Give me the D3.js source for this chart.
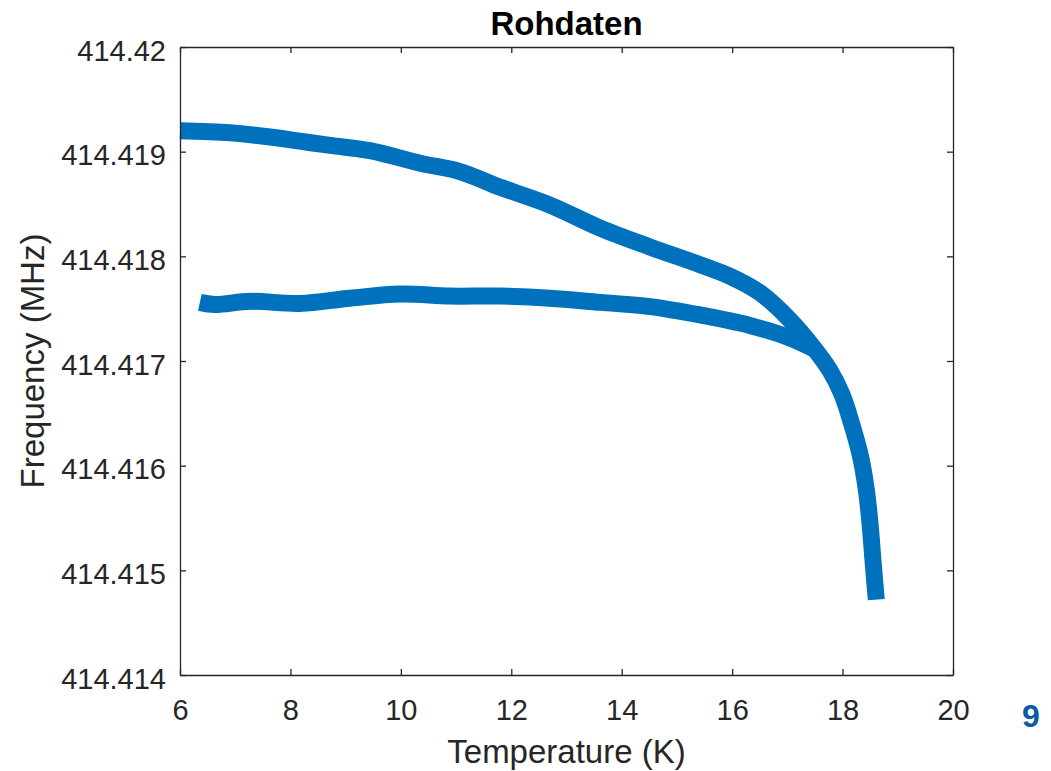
<!DOCTYPE html>
<html>
<head>
<meta charset="utf-8">
<script src="https://cdn.jsdelivr.net/npm/d3@7"></script>
<style>
  body { margin: 0; background: #fff; }
  svg { display: block; font-family: "Liberation Sans", Arial, sans-serif; }
</style>
</head>
<body>
<div id="chart"></div>
<script>

/*******************************/
/*        Chart data           */
/*******************************/
// Upper branch - temperature in K, frequency in MHz
const upperTemp = [6.00, 6.91, 7.63, 8.17, 8.72, 9.44, 10.35, 11.07, 11.80, 12.70, 13.61, 14.51,
  15.42, 15.96, 16.51, 17.05, 17.50, 17.77, 17.99, 18.17, 18.32, 18.43, 18.50, 18.55, 18.61];
const upperFreq = [414.41920, 414.41918, 414.41914, 414.41910, 414.41906, 414.41901, 414.41889,
  414.41881, 414.41866, 414.41849, 414.41827, 414.41809, 414.41792, 414.41781, 414.41765,
  414.41739, 414.41711, 414.41691, 414.41668, 414.41639, 414.41610, 414.41577, 414.41543,
  414.41510, 414.41472];

// Lower branch
const lowerTemp = [6.36, 6.63, 7.27, 8.17, 9.08, 9.99, 10.89, 11.80, 12.70, 13.61, 14.51,
  15.42, 16.32, 17.05, 17.50];
const lowerFreq = [414.41756, 414.41754, 414.41757, 414.41755, 414.41760, 414.41764, 414.41762,
  414.41762, 414.41760, 414.41756, 414.41752, 414.41744, 414.41734, 414.41722, 414.41711];

const xTicks = [6, 8, 10, 12, 14, 16, 18, 20];
const yTicks = [414.414, 414.415, 414.416, 414.417, 414.418, 414.419, 414.42];

const upper = upperTemp.map((t, i) => ({t: t, f: upperFreq[i]}));
const lower = lowerTemp.map((t, i) => ({t: t, f: lowerFreq[i]}));

/*******************************/
/*    Declare the constants    */
/*******************************/
const width = 1051;
const height = 771;
const plot = {left: 180, right: 953, top: 47, bottom: 675};
const axisColor = "#262626";
const lineColor = "#0072BD";

const svg = d3.select("#chart")
  .append("svg")
    .attr("width", width)
    .attr("height", height);

/****************************/
/*    Declare the scales    */
/****************************/
const xScale = d3.scaleLinear()
  .domain([6, 20])
  .range([plot.left, plot.right]);

const yScale = d3.scaleLinear()
  .domain([414.414, 414.42])
  .range([plot.bottom, plot.top]);

/*******************************/
/*        Draw the data        */
/*******************************/
const lineGenerator = d3.line()
  .x(d => xScale(d.t))
  .y(d => yScale(d.f))
  .curve(d3.curveCatmullRom);

[lower, upper].forEach(series => {
  svg.append("path")
    .attr("d", lineGenerator(series))
    .attr("fill", "none")
    .attr("stroke", lineColor)
    .attr("stroke-width", 17)
    .attr("stroke-linejoin", "round")
    .attr("stroke-linecap", "butt");
});

/**************************/
/*      Add the axes      */
/**************************/
const styleAxis = g => {
  g.select(".domain").attr("stroke", axisColor).attr("stroke-width", 1.3);
  g.selectAll(".tick line").attr("stroke", axisColor).attr("stroke-width", 1.3);
  g.selectAll(".tick text")
    .attr("fill", axisColor)
    .attr("font-size", 29)
    .attr("font-family", "'Liberation Sans', Arial, sans-serif");
};

const bottomAxis = d3.axisBottom(xScale)
  .tickValues(xTicks)
  .tickFormat(d3.format("d"))
  .tickSize(-6)
  .tickSizeOuter(0);
svg.append("g")
    .attr("transform", `translate(0, ${plot.bottom})`)
    .call(bottomAxis)
    .call(styleAxis)
    .call(g => g.selectAll(".tick text").attr("y", 45).attr("dy", null));

const topAxis = d3.axisTop(xScale)
  .tickValues(xTicks)
  .tickFormat("")
  .tickSize(-6)
  .tickSizeOuter(0);
svg.append("g")
    .attr("transform", `translate(0, ${plot.top})`)
    .call(topAxis)
    .call(styleAxis);

const leftAxis = d3.axisLeft(yScale)
  .tickValues(yTicks)
  .tickFormat(d => String(+d.toFixed(3)))
  .tickSize(-6)
  .tickSizeOuter(0);
svg.append("g")
    .attr("transform", `translate(${plot.left}, 0)`)
    .call(leftAxis)
    .call(styleAxis)
    .call(g => g.selectAll(".tick text").attr("x", -14).attr("dy", "0.45em"));

const rightAxis = d3.axisRight(yScale)
  .tickValues(yTicks)
  .tickFormat("")
  .tickSize(-6)
  .tickSizeOuter(0);
svg.append("g")
    .attr("transform", `translate(${plot.right}, 0)`)
    .call(rightAxis)
    .call(styleAxis);

/**************************/
/*     Labels & title     */
/**************************/
svg.append("text")
    .attr("x", (plot.left + plot.right) / 2)
    .attr("y", 35)
    .attr("text-anchor", "middle")
    .attr("font-size", 33)
    .attr("font-weight", "bold")
    .attr("fill", "#000")
    .text("Rohdaten");

svg.append("text")
    .attr("x", (plot.left + plot.right) / 2)
    .attr("y", 763)
    .attr("text-anchor", "middle")
    .attr("font-size", 33)
    .attr("fill", axisColor)
    .text("Temperature (K)");

svg.append("text")
    .attr("transform", `translate(44, ${(plot.top + plot.bottom) / 2}) rotate(-90)`)
    .attr("text-anchor", "middle")
    .attr("font-size", 33)
    .attr("fill", axisColor)
    .text("Frequency (MHz)");

// slide page number
svg.append("text")
    .attr("x", 1031)
    .attr("y", 727)
    .attr("text-anchor", "middle")
    .attr("font-size", 32)
    .attr("font-weight", "bold")
    .attr("fill", "#0B5AA6")
    .text("9");

</script>
</body>
</html>
